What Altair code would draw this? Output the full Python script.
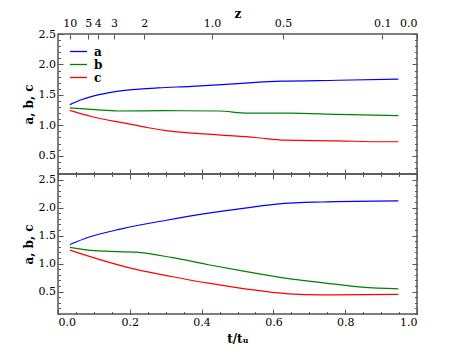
import altair as alt
import pandas as pd

series = ["a", "b", "c"]
colors = ["#0000ff", "#008000", "#ff0000"]

# top panel
top_a_t = [0.033, 0.065, 0.111, 0.186, 0.279, 0.371, 0.446, 0.512, 0.623, 0.78, 0.948]
top_a_v = [1.34, 1.42, 1.50, 1.575, 1.615, 1.64, 1.665, 1.69, 1.725, 1.74, 1.76]
top_b_t = [0.033, 0.103, 0.167, 0.298, 0.446, 0.53, 0.642, 0.78, 0.948]
top_b_v = [1.285, 1.256, 1.235, 1.24, 1.235, 1.20, 1.20, 1.18, 1.16]
top_c_t = [0.033, 0.093, 0.186, 0.252, 0.306, 0.446, 0.549, 0.632, 0.78, 0.9, 0.948]
top_c_v = [1.245, 1.145, 1.035, 0.96, 0.91, 0.843, 0.80, 0.755, 0.745, 0.73, 0.73]

# bottom panel
bot_a_t = [0.033, 0.085, 0.177, 0.298, 0.419, 0.521, 0.623, 0.734, 0.948]
bot_a_v = [1.34, 1.47, 1.62, 1.77, 1.90, 1.99, 2.07, 2.10, 2.12]
bot_b_t = [0.033, 0.103, 0.224, 0.316, 0.419, 0.521, 0.632, 0.734, 0.846, 0.948]
bot_b_v = [1.29, 1.23, 1.20, 1.11, 0.98, 0.86, 0.74, 0.66, 0.58, 0.55]
bot_c_t = [0.033, 0.112, 0.214, 0.316, 0.419, 0.521, 0.642, 0.734, 0.948]
bot_c_v = [1.24, 1.08, 0.90, 0.77, 0.65, 0.55, 0.46, 0.44, 0.45]

# redshift axis
z_labels = ["10", "5", "4", "3", "2", "1.0", "0.5", "0.1", "0.0"]
z_pos = [0.033, 0.084, 0.111, 0.156, 0.240, 0.429, 0.627, 0.903, 1.0]

x_major = [0.0, 0.2, 0.4, 0.6, 0.8, 1.0]
x_minor = [round(i * 0.05, 2) for i in range(21)]
y_major = [0.5, 1.0, 1.5, 2.0, 2.5]

rows = []
for panel, s, ts, vs in [
    ("top", "a", top_a_t, top_a_v),
    ("top", "b", top_b_t, top_b_v),
    ("top", "c", top_c_t, top_c_v),
    ("bot", "a", bot_a_t, bot_a_v),
    ("bot", "b", bot_b_t, bot_b_v),
    ("bot", "c", bot_c_t, bot_c_v),
]:
    for t, v in zip(ts, vs):
        rows.append({"panel": panel, "series": s, "t": t, "v": v})
df = pd.DataFrame(rows)

FONT = "'DejaVu Serif'"
FRAME = "#555555"
W, H = 359, 140

common = dict(domain=False, grid=False, tickColor=FRAME, tickWidth=1,
              labelFont=FONT, titleFont=FONT,
              labelFontSize=11, labelColor="black",
              titleFontWeight="bold", titleFontSize=12,
              titleColor="black")


def panel_chart(name, ydom, is_top):
    d = df[df.panel == name]
    xs = alt.Scale(domain=[0, 1], nice=False, zero=False)
    ys = alt.Scale(domain=ydom, nice=False, zero=False)
    y_minor = [round(ydom[0] + i * 0.1, 2) for i in range(int(round((ydom[1] - ydom[0]) / 0.1)) + 1)]

    if is_top:
        xA = alt.Axis(orient="bottom", values=x_major, labels=False, title=None,
                      tickSize=5, offset=-5, **common)
        expr = "%s[indexof(%s, datum.value)]" % (str(z_labels), str(z_pos))
        xB = alt.Axis(orient="top", values=z_pos, labelExpr=expr, title="z",
                      tickSize=5, offset=-5, labelPadding=6, titlePadding=-3, **common)
        xD = alt.Axis(orient="top", values=x_minor, labels=False, title=None,
                      tickSize=0, offset=0, **common)
        legend = alt.Legend(title=None, orient="none", legendX=14, legendY=11,
                            symbolType="M-1.5,0L1.5,0", symbolSize=128, symbolStrokeWidth=1.3,
                            labelFont=FONT, labelFontSize=12, labelFontWeight="bold",
                            rowPadding=0, labelOffset=9)
    else:
        xA = alt.Axis(orient="bottom", values=x_major, format=".1f", title="t/tᵤ",
                      tickSize=5, offset=-5, labelPadding=2, titlePadding=6, **common)
        xB = alt.Axis(orient="top", values=x_major, labels=False, title=None,
                      tickSize=5, offset=-5, **common)
        xD = alt.Axis(orient="top", values=x_minor, labels=False, title=None,
                      tickSize=2.5, offset=-2.5, **common)
        legend = None

    yA = alt.Axis(orient="left", values=y_major, format=".1f", title="a, b, c",
                  tickSize=5, offset=-5, labelPadding=2.5, titlePadding=3, **common)
    yB = alt.Axis(orient="right", values=y_major, labels=False, title=None,
                  tickSize=5, offset=-5, **common)
    yC = alt.Axis(orient="left", values=y_minor, labels=False, title=None,
                  tickSize=2.5, offset=-2.5, **common)
    yD = alt.Axis(orient="right", values=y_minor, labels=False, title=None,
                  tickSize=2.5, offset=-2.5, **common)
    xC = alt.Axis(orient="bottom", values=x_minor, labels=False, title=None,
                  tickSize=2.5, offset=-2.5, **common)

    base = alt.Chart(d)
    if legend is None:
        color = alt.Color("series:N", scale=alt.Scale(domain=series, range=colors), legend=None)
    else:
        color = alt.Color("series:N", scale=alt.Scale(domain=series, range=colors), legend=legend)
    A = base.mark_line(strokeWidth=1.2, interpolate="monotone").encode(
        x=alt.X("t:Q", scale=xs, axis=xA),
        y=alt.Y("v:Q", scale=ys, axis=yA),
        color=color,
    )
    layers = [A]
    for xa, ya in [(xB, yB), (xC, yC), (xD, yD)]:
        layers.append(base.mark_line(opacity=0).encode(
            x=alt.X("t:Q", scale=xs, axis=xa),
            y=alt.Y("v:Q", scale=ys, axis=ya),
            detail="series:N",
        ))
    return alt.layer(*layers).resolve_axis(x="independent", y="independent").properties(width=W, height=H)


top = panel_chart("top", [0.2, 2.5], True)
bot = panel_chart("bot", [0.1, 2.6], False)

chart = alt.vconcat(top, bot, spacing=0, bounds="flush").properties(
    padding={"left": 13, "top": -2, "right": 5, "bottom": 0},
    background="white",
).configure_view(stroke=FRAME, strokeWidth=1.5)

chart.save("out.html", embed_options={"renderer": "svg", "actions": False})
